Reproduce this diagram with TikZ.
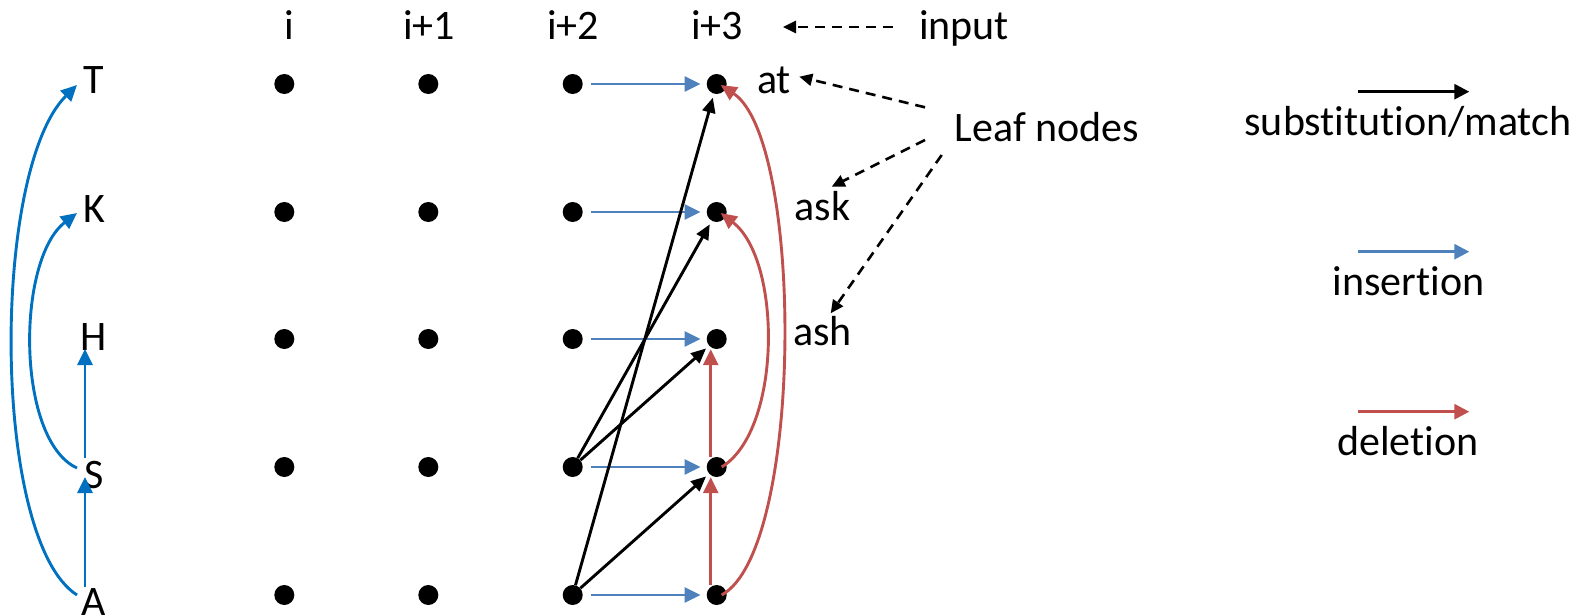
\documentclass[tikz,border=0pt]{standalone}
\usepackage{fontspec}
\setmainfont[Ligatures={NoCommon,NoContextual,NoRare},RawFeature={-liga,-calt,-clig,-dlig}]{Carlito}
\usetikzlibrary{arrows.meta,calc}
\definecolor{insblue}{RGB}{79,129,189}
\definecolor{delred}{RGB}{192,80,77}
\definecolor{arcblue}{RGB}{0,112,192}
\newcommand{\nl}{\kern0pt }
\begin{document}
\begin{tikzpicture}[x=1pt,y=-1pt,font=\fontsize{42}{50}\selectfont,
  dot/.style={circle,fill=black,inner sep=0pt,minimum size=20pt},
  lbl/.style={inner sep=0pt,anchor=base},
  ins/.style={insblue,line width=2.9pt,-{Triangle[length=16pt,width=15pt]}},
  subarr/.style={black,line width=2.9pt,-{Triangle[length=15pt,width=13pt]}},
  del/.style={delred,line width=2.9pt,-{Triangle[length=16pt,width=15pt]}},
  arcb/.style={arcblue,line width=2.9pt,-{Triangle[length=16pt,width=15pt]}},
  dashar/.style={black,line width=2.6pt,dash pattern=on 10pt off 7pt,-{Triangle[length=13pt,width=12pt]}}]
\useasboundingbox (0,0) rectangle (1591,616);
% dots
\foreach \r/\y in {1/84,2/212,3/339,4/467,5/595}
  \foreach \c/\x in {1/284.3,2/428.3,3/572.7,4/716.7}
    \node[dot] (d\r\c) at (\x,\y) {};
% column labels
\node[lbl] (c1) at (289,39) {i};
\node[lbl] (c2) at (429,39) {i+1};
\node[lbl] (c3) at (573,39) {i+2};
\node[lbl] (c4) at (717,39) {i+3};
\node[lbl] (inp) at (964,39) {input};
\draw[dashar] ($(inp.base)+(-71,-12)$) -- ($(c4.base)+(66,-12)$);
% leaf labels
\node[lbl] (at) at (774,93.3) {at};
\node[lbl] (ask) at (822.5,220.7) {ask};
\node[lbl] (ash) at (822.6,345) {ash};
\node[lbl] (leaf) at (1047,141.7) {Leaf nodes};
\draw[dashar] ($(leaf.base)+(-122,-34.4)$) -- ($(at.base)+(25.3,-16.6)$);
\draw[dashar] ($(leaf.base)+(-122,-1.7)$) -- ($(ask.base)+(9.2,-34)$);
\draw[dashar] ($(leaf.base)+(-105.3,13.3)$) -- ($(ash.base)+(8.1,-31.7)$);
% insertion arrows
\foreach \r in {1,...,5}
  \draw[ins,shorten <=8pt,shorten >=6pt] (d\r3) -- (d\r4);
% substitution arrows
\draw[subarr,shorten >=4pt] (d53) -- (d14);
\draw[subarr,shorten >=4pt] (d53) -- (d44);
\draw[subarr,shorten >=4pt] (d43) -- (d34);
\draw[subarr,shorten >=4pt] (d43) -- (d24);
% deletion arrows
\draw[del] ([xshift=-6pt]d54.north) -- ([xshift=-6pt]d44.south);
\draw[del] ([xshift=-6pt]d44.north) -- ([xshift=-6pt]d34.south);
\draw[del] ($(d44.center)+(5,0)$) .. controls (782,430) and (782,260) .. ($(d24.center)+(4,1)$);
\draw[del] ($(d54.center)+(5,0)$) .. controls (804,550) and (804,140) .. ($(d14.center)+(4,1)$);
% left letters
\node[lbl] (T) at (94,93) {T};
\node[lbl] (K) at (94,222) {K};
\node[lbl] (H) at (94,350) {H};
\node[lbl] (S) at (94,488) {S};
\node[lbl] (A) at (94,615) {A};
\draw[arcb] ($(A.base)+(-9,-28)$) -- ($(S.base)+(-9,-11)$);
\draw[arcb] ($(S.base)+(-9,-30)$) -- ($(H.base)+(-9,-1)$);
\draw[arcb] ($(S.base)+(-17,-20)$) .. controls (16,440) and (16,260) .. ($(K.base)+(-17,-9)$);
\draw[arcb] ($(A.base)+(-17,-20)$) .. controls (-9,540) and (-9,170) .. ($(T.base)+(-17,-8)$);
% legend
\node[lbl] (lsub) at (1408,135) {subst\nl itut\nl ion/match};
\node[lbl] (lins) at (1408.5,295) {insert\nl ion};
\node[lbl] (ldel) at (1408,455) {delet\nl ion};
\draw[subarr,-{Triangle[length=15pt,width=15pt]}] ($(lsub.base)+(-49.7,-43.3)$) -- ($(lsub.base)+(61.3,-43.3)$);
\draw[ins,-{Triangle[length=15pt,width=15pt]}] ($(lins.base)+(-50.2,-43.3)$) -- ($(lins.base)+(60.8,-43.3)$);
\draw[del,-{Triangle[length=15pt,width=15pt]}] ($(ldel.base)+(-49.7,-43.3)$) -- ($(ldel.base)+(61.3,-43.3)$);
\end{tikzpicture}
\end{document}
